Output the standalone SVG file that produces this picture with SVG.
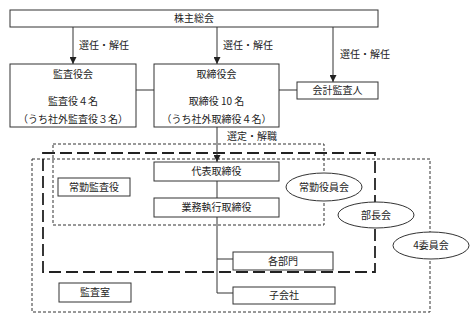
<svg xmlns="http://www.w3.org/2000/svg" width="475" height="317" viewBox="0 0 475 317">
<style>
.b{fill:#fff;stroke:#333;stroke-width:1}
.t{font-family:"Noto Sans CJK JP","Noto Sans",sans-serif;font-size:10px;fill:#222;text-anchor:middle}
.l{font-family:"Noto Sans CJK JP","Noto Sans",sans-serif;font-size:10px;fill:#222}
.c{stroke:#333;stroke-width:1;fill:none}
.sd{fill:none;stroke:#333;stroke-width:1;stroke-dasharray:3,2}
.ld{fill:none;stroke:#222;stroke-width:1.8;stroke-dasharray:12,5}
.e{fill:#fff;stroke:#333;stroke-width:1}
</style>
<defs>
<marker id="a" viewBox="0 0 8 8" refX="8" refY="4" markerWidth="7" markerHeight="7" markerUnits="userSpaceOnUse" orient="auto">
<path d="M0,0L8,4L0,8z" fill="#222"/>
</marker>
</defs>
<rect width="475" height="317" fill="#fff"/>
<g id="areas">
<rect class="sd" x="32" y="159" width="398" height="153"/>
<rect class="ld" x="43" y="153" width="332" height="119"/>
<rect class="sd" x="53" y="144" width="271" height="81"/>
</g>
<g id="connectors">
<line class="c" x1="73" y1="27" x2="73" y2="64" marker-end="url(#a)"/>
<line class="c" x1="217" y1="27" x2="217" y2="64" marker-end="url(#a)"/>
<line class="c" x1="333" y1="27" x2="333" y2="82" marker-end="url(#a)"/>
<line class="c" x1="136" y1="90" x2="154" y2="90"/>
<line class="c" x1="279" y1="90" x2="297" y2="90"/>
<line class="c" x1="217" y1="127" x2="217" y2="162" marker-end="url(#a)"/>
<line class="c" x1="217" y1="181" x2="217" y2="198"/>
<polyline class="c" points="217,217 217,293 233,293"/>
<line class="c" x1="217" y1="259" x2="233" y2="259"/>
<text class="l" x="79" y="49">選任・解任</text>
<text class="l" x="223" y="49">選任・解任</text>
<text class="l" x="340" y="58">選任・解任</text>
<text class="l" x="227" y="140">選定・解職</text>
</g>
<g id="kabunushi"><rect class="b" x="10" y="10" width="368" height="17"/><text class="t" x="194" y="22">株主総会</text></g>
<g id="kansayakukai"><rect class="b" x="10" y="64" width="126" height="63"/>
<text class="t" x="73" y="78">監査役会</text>
<text class="t" x="73" y="104.5">監査役４名</text>
<text class="t" x="73" y="122.5">（うち社外監査役３名）</text></g>
<g id="torishimariyakukai"><rect class="b" x="154" y="64" width="125" height="63"/>
<text class="t" x="216.5" y="78">取締役会</text>
<text class="t" x="216.5" y="104.5">取締役 10 名</text>
<text class="t" x="216.5" y="122.5">（うち社外取締役４名）</text></g>
<g id="kaikei"><rect class="b" x="297" y="82" width="81" height="17"/><text class="t" x="337.5" y="94">会計監査人</text></g>
<g id="daihyo"><rect class="b" x="154" y="162" width="125" height="19"/><text class="t" x="216.5" y="175">代表取締役</text></g>
<g id="gyomu"><rect class="b" x="154" y="198" width="125" height="19"/><text class="t" x="216.5" y="211">業務執行取締役</text></g>
<g id="jokinkansa"><rect class="b" x="58" y="178" width="72" height="18"/><text class="t" x="94" y="190.5">常勤監査役</text></g>
<g id="kansashitsu"><rect class="b" x="59" y="283" width="72" height="19"/><text class="t" x="95" y="296">監査室</text></g>
<g id="kakubumon"><rect class="b" x="233" y="252" width="100" height="18"/><text class="t" x="283" y="264.5">各部門</text></g>
<g id="kogaisha"><rect class="b" x="233" y="287" width="102" height="17"/><text class="t" x="284" y="299">子会社</text></g>
<g id="jokinyakuinkai"><ellipse class="e" cx="324" cy="187" rx="38" ry="14"/><text class="t" x="324" y="190.5">常勤役員会</text></g>
<g id="buchokai"><ellipse class="e" cx="376" cy="215" rx="38" ry="13"/><text class="t" x="376" y="218.5">部長会</text></g>
<g id="iinkai"><ellipse class="e" cx="431" cy="245.5" rx="38" ry="13.5"/><text class="t" x="431" y="249">4委員会</text></g>
</svg>
